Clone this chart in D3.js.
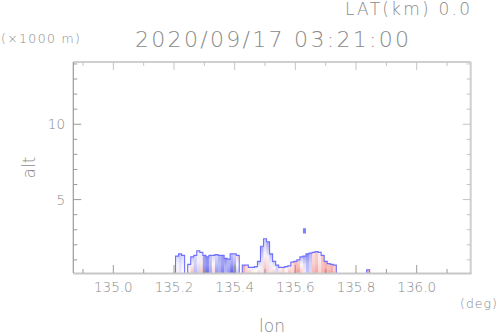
<!DOCTYPE html>
<html>
<head>
<meta charset="utf-8">
<script src="https://cdn.jsdelivr.net/npm/d3@7"></script>
<style>
  html, body { margin: 0; padding: 0; background: #fff; }
  svg text { font-family: "DejaVu Sans", sans-serif; font-weight: 200; fill: #8a8a8a; }
</style>
</head>
<body>
<div id="chart"></div>
<script>
// cross-section columns (0.01 deg bins)
const lonBins = [135.21, 135.22, 135.23, 135.24, 135.25, 135.26, 135.27, 135.28, 135.29, 135.30,
  135.31, 135.32, 135.33, 135.34, 135.35, 135.36, 135.37, 135.38, 135.39, 135.40,
  135.41, 135.42, 135.43, 135.44, 135.45, 135.46, 135.47, 135.48, 135.49, 135.50,
  135.51, 135.52, 135.53, 135.54, 135.55, 135.56, 135.57, 135.58, 135.59, 135.60,
  135.61, 135.62, 135.63, 135.64, 135.65, 135.66, 135.67, 135.68, 135.69, 135.70,
  135.71, 135.72, 135.73, 135.74, 135.84];
// echo top (km)
const topKm = [1.25, 1.4, 1.3, 0, 0.7, 1.2, 1.3, 1.6, 1.5, 1.3,
  1.2, 1.3, 1.3, 1.35, 1.3, 1.3, 1.1, 1.05, 1.4, 1.4,
  1.3, 0, 0.65, 0.65, 0.5, 0.5, 0.55, 0.9, 1.9, 2.4,
  2.2, 1.4, 0.9, 0.65, 0.5, 0.5, 0.55, 0.6, 0.85, 0.9,
  1.0, 1.2, 1.25, 1.4, 1.45, 1.5, 1.55, 1.5, 1.3, 0.9,
  0.75, 0.7, 0.65, 0, 0.35];
// doppler value near ground / near top (-1 away .. +1 toward)
const valLow = [0.1, -0.1, 0.0, 0, 0.3, 0.5, -0.4, -0.3, 0.4, -0.7,
  -0.8, -0.5, 0.3, -0.6, -0.5, -0.7, -0.4, -0.6, -0.9, -0.8,
  -0.3, 0, 0.5, 0.3, 0.4, 0.3, 0.2, 0.4, 0.1, 0.5,
  0.3, 0.2, 0.4, -0.2, 0.3, 0.4, 0.2, 0.5, 0.3, 0.6,
  0.7, 0.4, 0.1, -0.3, -0.2, 0.5, 0.6, 0.3, 0.5, 0.7,
  0.6, 0.7, 0.4, 0, 0.6];
const valHigh = [-0.2, -0.3, -0.2, 0, -0.2, -0.3, -0.2, 0.1, -0.1, -0.5,
  -0.6, -0.3, -0.2, -0.2, -0.4, -0.5, -0.6, -0.4, -0.3, -0.2,
  0.3, 0, 0.6, 0.2, 0.1, -0.1, -0.2, -0.4, -0.5, -0.3,
  -0.5, -0.4, -0.3, -0.3, 0.1, 0.2, -0.1, 0.1, 0.2, 0.4,
  0.3, -0.3, -0.5, -0.6, -0.4, 0.2, 0.3, 0.1, 0.4, 0.5,
  0.4, 0.5, 0.3, 0, 0.6];
// isolated echo aloft
const blobLon = [135.63];
const blobBase = [2.75];
const blobTop = [3.1];

const xTicks = [135.0, 135.2, 135.4, 135.6, 135.8, 136.0];
const yTicks = [5, 10];

const W = 498, H = 336;
const plot = { left: 73.3, right: 470.7, top: 62, bottom: 273 };

const x = d3.scaleLinear().domain([134.868, 136.178]).range([plot.left, plot.right]);
const y = d3.scaleLinear().domain([0.13, 14.13]).range([plot.bottom, plot.top]);
const color = d3.scaleLinear().domain([-1, 0, 1]).range(['#3c3ce6', '#ffffff', '#ec5a5a']);

const svg = d3.select('#chart').append('svg')
  .attr('width', W).attr('height', H);

const defs = svg.append('defs');
defs.append('clipPath').attr('id', 'clip')
  .append('rect')
  .attr('x', plot.left).attr('y', plot.top)
  .attr('width', plot.right - plot.left).attr('height', plot.bottom - plot.top);

const cols = lonBins.map((lon, i) => ({ lon, top: topKm[i], lo: valLow[i], hi: valHigh[i], i }));

cols.forEach(c => {
  const g = defs.append('linearGradient').attr('id', `g${c.i}`)
    .attr('x1', 0).attr('y1', 1).attr('x2', 0).attr('y2', 0);
  g.append('stop').attr('offset', 0).attr('stop-color', color(c.lo));
  g.append('stop').attr('offset', 0.55).attr('stop-color', color((c.lo + c.hi) / 2 * 0.8));
  g.append('stop').attr('offset', 1).attr('stop-color', color(c.hi));
});

const data = svg.append('g').attr('clip-path', 'url(#clip)');

data.selectAll('.col')
  .data(cols.filter(c => c.top > 0))
  .enter()
  .append('rect')
  .attr('class', 'col')
  .attr('x', d => x(d.lon - 0.005))
  .attr('width', d => x(d.lon + 0.005) - x(d.lon - 0.005) + 0.3)
  .attr('y', d => y(d.top))
  .attr('height', d => y(0) - y(d.top))
  .attr('fill', d => `url(#g${d.i})`);

// outline along contiguous runs
const runs = [];
let run = [];
cols.forEach(c => {
  const adjacent = run.length && Math.abs(c.lon - run[run.length - 1].lon - 0.01) < 1e-6;
  if (c.top > 0 && (run.length === 0 || adjacent)) run.push(c);
  else {
    if (run.length) runs.push(run);
    run = c.top > 0 ? [c] : [];
  }
});
if (run.length) runs.push(run);

runs.forEach(r => {
  const p = d3.path();
  p.moveTo(x(r[0].lon - 0.005), y(0));
  r.forEach(c => {
    p.lineTo(x(c.lon - 0.005), y(c.top));
    p.lineTo(x(c.lon + 0.005), y(c.top));
  });
  p.lineTo(x(r[r.length - 1].lon + 0.005), y(0));
  data.append('path')
    .attr('d', p.toString())
    .attr('fill', 'none')
    .attr('stroke', '#7070ff')
    .attr('stroke-width', 1.1);
});

blobLon.forEach((lon, i) => {
  data.append('rect')
    .attr('x', x(lon - 0.005))
    .attr('width', x(lon + 0.005) - x(lon - 0.005))
    .attr('y', y(blobTop[i]))
    .attr('height', y(blobBase[i]) - y(blobTop[i]))
    .attr('fill', '#8080ff');
});

// frame
const frame = svg.append('g');
frame.append('line')
  .attr('x1', plot.left).attr('x2', plot.right)
  .attr('y1', plot.top).attr('y2', plot.top)
  .attr('stroke', '#cfcfcf').attr('stroke-width', 2);
frame.append('line')
  .attr('x1', plot.right).attr('x2', plot.right)
  .attr('y1', plot.top).attr('y2', plot.bottom)
  .attr('stroke', '#cfcfcf').attr('stroke-width', 2);
frame.append('line')
  .attr('x1', plot.left).attr('x2', plot.right + 1)
  .attr('y1', plot.bottom + 0.5).attr('y2', plot.bottom + 0.5)
  .attr('stroke', '#c8c8c8').attr('stroke-width', 2.2);
frame.append('line')
  .attr('x1', plot.left).attr('x2', plot.left)
  .attr('y1', plot.top).attr('y2', plot.bottom)
  .attr('stroke', '#9a9a9a').attr('stroke-width', 1.2);

// ticks
const xMinor = d3.range(134.9, 136.18, 0.1);
const yMinor = d3.range(1, 14.1, 1);
const tickColor = '#9a9a9a';
xMinor.forEach(v => {
  const major = xTicks.some(t => Math.abs(t - v) < 1e-6);
  const len = major ? 8 : 4;
  frame.append('line')
    .attr('x1', x(v)).attr('x2', x(v))
    .attr('y1', plot.bottom).attr('y2', plot.bottom - len)
    .attr('stroke', tickColor);
  frame.append('line')
    .attr('x1', x(v)).attr('x2', x(v))
    .attr('y1', plot.top).attr('y2', plot.top + len)
    .attr('stroke', '#c4c4c4');
});
yMinor.forEach(v => {
  const major = yTicks.includes(v);
  const len = major ? 8 : 4;
  frame.append('line')
    .attr('x1', plot.left).attr('x2', plot.left + len)
    .attr('y1', y(v)).attr('y2', y(v))
    .attr('stroke', tickColor);
  frame.append('line')
    .attr('x1', plot.right).attr('x2', plot.right - len)
    .attr('y1', y(v)).attr('y2', y(v))
    .attr('stroke', '#c4c4c4');
});

// tick labels
svg.selectAll('.xlab')
  .data(xTicks)
  .enter()
  .append('text')
  .attr('class', 'xlab')
  .attr('x', d => x(d))
  .attr('y', 292)
  .attr('text-anchor', 'middle')
  .attr('font-size', 13.5)
  .text(d => d.toFixed(1));

svg.selectAll('.ylab')
  .data(yTicks)
  .enter()
  .append('text')
  .attr('class', 'ylab')
  .attr('x', 65)
  .attr('y', d => y(d) + 5)
  .attr('text-anchor', 'end')
  .attr('font-size', 13.5)
  .text(d => d);

// titles and units
svg.append('text')
  .attr('x', 345).attr('y', 15)
  .attr('font-size', 17)
  .attr('textLength', 125)
  .text('LAT(km) 0.0');

svg.append('text')
  .attr('x', 135).attr('y', 47)
  .attr('font-size', 22)
  .attr('textLength', 274)
  .text('2020/09/17 03:21:00');

svg.append('text')
  .attr('x', 1).attr('y', 43)
  .attr('font-size', 12.5)
  .attr('textLength', 79)
  .text('(\u00d71000 m)');

svg.append('text')
  .attr('x', 460).attr('y', 308)
  .attr('font-size', 12.5)
  .attr('textLength', 37)
  .text('(deg)');

svg.append('text')
  .attr('x', 272).attr('y', 332)
  .attr('text-anchor', 'middle')
  .attr('font-size', 17)
  .text('lon');

svg.append('text')
  .attr('transform', 'translate(35,167.5) rotate(-90)')
  .attr('text-anchor', 'middle')
  .attr('font-size', 17)
  .text('alt');
</script>
</body>
</html>
